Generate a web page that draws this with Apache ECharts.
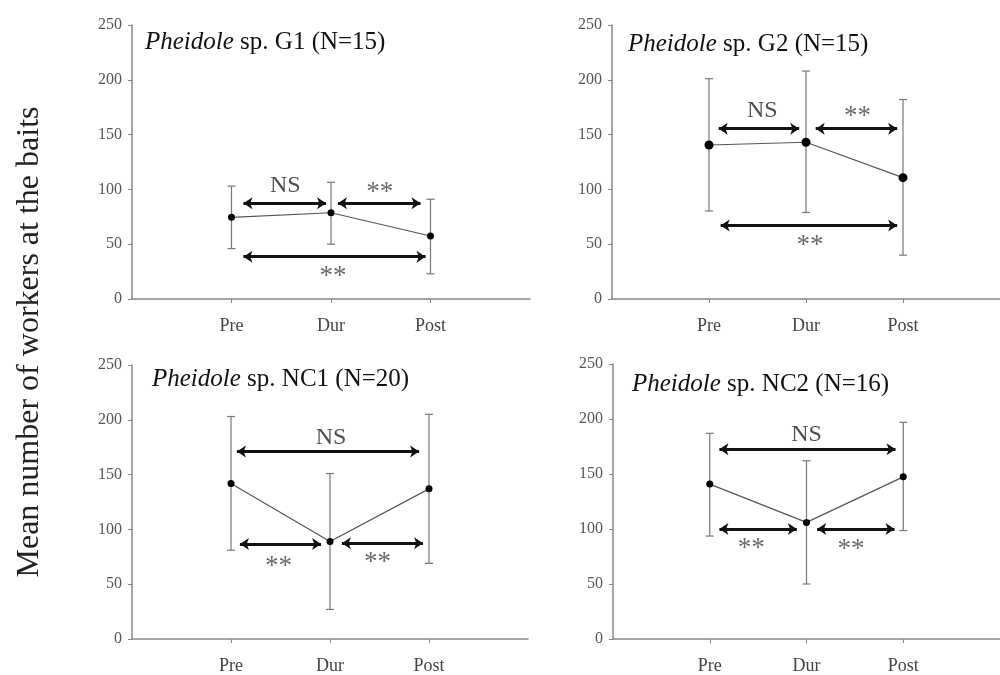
<!DOCTYPE html>
<html>
<head>
<meta charset="utf-8">
<script src="https://cdn.jsdelivr.net/npm/echarts@6/dist/echarts.min.js"></script>
<style>
  html, body { margin: 0; padding: 0; background: #fff; }
  #chart { width: 1000px; height: 675px; }
</style>
</head>
<body>
<div id="chart"></div>
<script>
// data
const categories = ['Pre', 'Dur', 'Post'];
const catPos = [1, 2, 3];

const titles = ['G1 (N=15)', 'G2 (N=15)', 'NC1 (N=20)', 'NC2 (N=16)'];

const g1Mean = [74.5, 78.7, 57.5];
const g1Low = [46, 50, 23];
const g1High = [103, 106.5, 91];
const g1Arrows = [[1.12, 87.3, 1.95, 87.3], [2.07, 87.3, 2.9, 87.3], [1.12, 38.6, 2.95, 38.6]];
const g1Notes = [[1.54, 103, 'NS'], [2.49, 97, '**'], [2.02, 20, '**']];

const g2Mean = [140.5, 143, 110.7];
const g2Low = [80.3, 79, 40];
const g2High = [201, 208, 182];
const g2Arrows = [[1.1, 155.4, 1.93, 155.4], [2.1, 155.4, 2.94, 155.4], [1.12, 67, 2.94, 67]];
const g2Notes = [[1.55, 172, 'NS'], [2.53, 166, '**'], [2.04, 48, '**']];

const nc1Mean = [141.8, 89, 137];
const nc1Low = [81, 27, 69];
const nc1High = [203, 151, 205];
const nc1Arrows = [[1.06, 171, 2.9, 171], [1.09, 86.7, 1.91, 86.7], [2.12, 87.3, 2.94, 87.3]];
const nc1Notes = [[2.01, 184, 'NS'], [1.48, 66, '**'], [2.48, 69, '**']];

const nc2Mean = [140.8, 106, 147.4];
const nc2Low = [93.6, 50, 98.6];
const nc2High = [187, 162, 197];
const nc2Arrows = [[1.1, 172.4, 2.92, 172.4], [1.1, 100, 1.9, 100], [2.11, 100, 2.91, 100]];
const nc2Notes = [[2.0, 186, 'NS'], [1.43, 82, '**'], [2.46, 81, '**']];

const panels = [
  { mean: g1Mean, low: g1Low, high: g1High, arrows: g1Arrows, notes: g1Notes },
  { mean: g2Mean, low: g2Low, high: g2High, arrows: g2Arrows, notes: g2Notes },
  { mean: nc1Mean, low: nc1Low, high: nc1High, arrows: nc1Arrows, notes: nc1Notes },
  { mean: nc2Mean, low: nc2Low, high: nc2High, arrows: nc2Arrows, notes: nc2Notes }
];

const FONT = '"Liberation Serif", "DejaVu Serif", serif';

const grids = [
  { left: 132, top: 25, width: 398, height: 274 },
  { left: 612, top: 25, width: 392, height: 274 },
  { left: 132, top: 365, width: 396, height: 275 },
  { left: 613, top: 364, width: 396, height: 277 }
];
const titlePos = [[140, 25], [623, 27], [147, 362], [627, 367]];

const chart = echarts.init(document.getElementById('chart'), null, { renderer: 'canvas' });

const option = {
  backgroundColor: '#fff',
  animation: false,
  title: titles.map((t, i) => ({
    text: '{i|Pheidole} sp. ' + t,
    left: titlePos[i][0],
    top: titlePos[i][1],
    textStyle: {
      fontFamily: FONT, fontSize: 25, fontWeight: 'normal', color: '#111',
      rich: { i: { fontFamily: FONT, fontSize: 25, fontStyle: 'italic', color: '#111' } }
    }
  })),
  graphic: [{
    type: 'text',
    x: 30, y: 342,
    rotation: Math.PI / 2,
    style: {
      text: 'Mean number of workers at the baits',
      fontFamily: FONT, fontSize: 32, fill: '#222',
      align: 'center', verticalAlign: 'middle'
    }
  }],
  grid: grids,
  xAxis: grids.map((g, i) => ({
    type: 'value',
    gridIndex: i,
    min: 0, max: 4, interval: 1,
    axisLine: { lineStyle: { color: '#888', width: 1.5 } },
    axisTick: { customValues: catPos, length: 4, lineStyle: { color: '#888' } },
    axisLabel: {
      customValues: catPos,
      formatter: (v) => categories[Math.round(v) - 1] || '',
      fontFamily: FONT, fontSize: 18, color: '#444', margin: 18
    },
    splitLine: { show: false }
  })),
  yAxis: grids.map((g, i) => ({
    type: 'value',
    gridIndex: i,
    min: 0, max: 250, interval: 50,
    axisLine: { show: true, lineStyle: { color: '#888', width: 1.5 } },
    axisTick: { show: true, length: 4, lineStyle: { color: '#888' } },
    axisLabel: { fontFamily: FONT, fontSize: 16, color: '#555', margin: 10 },
    splitLine: { show: false }
  })),
  series: []
};

panels.forEach((p, i) => {
  // error bars
  option.series.push({
    type: 'custom',
    xAxisIndex: i, yAxisIndex: i,
    data: catPos.map((x, k) => [x, p.low[k], p.high[k]]),
    renderItem: (params, api) => {
      const lo = api.coord([api.value(0), api.value(1)]);
      const hi = api.coord([api.value(0), api.value(2)]);
      const w = 4;
      const st = { stroke: '#777', lineWidth: 1.2 };
      return {
        type: 'group',
        children: [
          { type: 'line', shape: { x1: lo[0], y1: lo[1], x2: hi[0], y2: hi[1] }, style: st },
          { type: 'line', shape: { x1: lo[0] - w, y1: lo[1], x2: lo[0] + w, y2: lo[1] }, style: st },
          { type: 'line', shape: { x1: hi[0] - w, y1: hi[1], x2: hi[0] + w, y2: hi[1] }, style: st }
        ]
      };
    },
    z: 2
  });
  // means + significance arrows
  option.series.push({
    type: 'line',
    xAxisIndex: i, yAxisIndex: i,
    data: catPos.map((x, k) => [x, p.mean[k]]),
    symbol: 'circle',
    symbolSize: i === 1 ? 9 : 7,
    itemStyle: { color: '#000' },
    lineStyle: { color: '#555', width: 1.2 },
    z: 3,
    markLine: {
      silent: true,
      symbol: ['arrow', 'arrow'],
      symbolSize: [9, 9],
      lineStyle: { color: '#111', width: 3, type: 'solid' },
      label: { show: false },
      data: p.arrows.map((a) => [{ coord: [a[0], a[1]] }, { coord: [a[2], a[3]] }])
    }
  });
  // NS / ** labels
  option.series.push({
    type: 'scatter',
    xAxisIndex: i, yAxisIndex: i,
    symbolSize: 0,
    data: p.notes.map((n) => ({
      value: [n[0], n[1]],
      name: n[2],
      label: n[2] === 'NS'
        ? { fontSize: 24, color: '#222' }
        : { fontSize: 27, color: '#444' }
    })),
    label: {
      show: true,
      position: 'inside',
      formatter: (d) => d.name,
      fontFamily: FONT
    },
    z: 4
  });
});

chart.setOption(option);
</script>
</body>
</html>
